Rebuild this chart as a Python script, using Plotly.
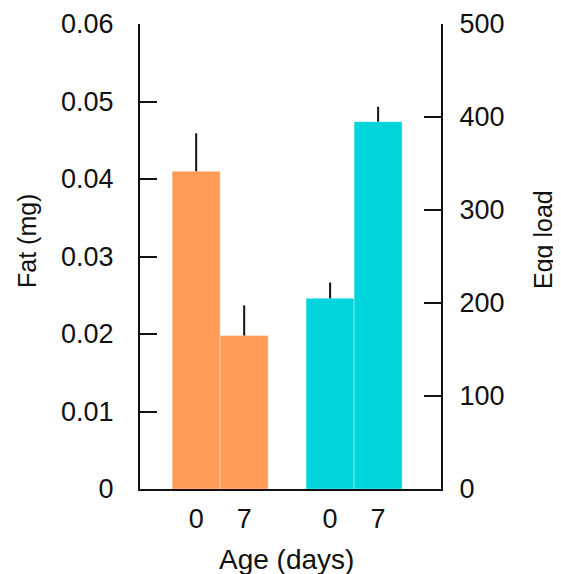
import plotly.graph_objects as go

# ---- data ----
age_labels = ["0", "7", "0", "7"]
fat_mean = [0.041, 0.0198]
fat_err = [0.0049, 0.0039]
egg_mean = [205, 395]
egg_err = [17, 16]
fat_ticks = [0, 0.01, 0.02, 0.03, 0.04, 0.05, 0.06]
fat_ticktext = ["0", "0.01", "0.02", "0.03", "0.04", "0.05", "0.06"]
egg_ticks = [0, 100, 200, 300, 400, 500]

# ---- layout constants ----
fat_x = [0, 1]
egg_x = [2.79, 3.79]
FONT = "Liberation Sans, Arial, sans-serif"
ORANGE = "#FF9A57"
CYAN = "#00D5DC"
INK = "#111111"

FIG_W, FIG_H = 553, 566
L, T, PW, PH = 132, 16, 301, 465


def px_x(px):
    return (px - L) / PW


def px_y(py):
    return (T + PH - py) / PH


fig = go.Figure()
fig.add_trace(go.Bar(
    x=fat_x, y=fat_mean, width=1.0, yaxis="y",
    marker=dict(color=ORANGE, line=dict(color="rgba(255,255,255,0.35)", width=1)),
    error_y=dict(type="data", array=fat_err, arrayminus=[0] * len(fat_err),
                 symmetric=False, width=0, thickness=2, color=INK),
    showlegend=False,
))
fig.add_trace(go.Bar(
    x=egg_x, y=egg_mean, width=1.0, yaxis="y2",
    marker=dict(color=CYAN, line=dict(color="rgba(255,255,255,0.35)", width=1)),
    error_y=dict(type="data", array=egg_err, arrayminus=[0] * len(egg_err),
                 symmetric=False, width=0, thickness=2, color=INK),
    showlegend=False,
))

axis_common = dict(showgrid=False, zeroline=False, showline=True,
                   linecolor=INK, linewidth=2, automargin=False)

fig.update_layout(
    width=FIG_W, height=FIG_H,
    margin=dict(l=L, r=FIG_W - L - PW, t=T, b=FIG_H - T - PH),
    paper_bgcolor="white", plot_bgcolor="white",
    font=dict(family=FONT, size=27, color=INK),
    barmode="overlay",
    xaxis=dict(
        range=[-1.17, 5.1], tickvals=fat_x + egg_x, ticktext=age_labels,
        ticks="", ticklabelstandoff=5, **axis_common,
    ),
    yaxis=dict(
        range=[0, 0.06], tickvals=fat_ticks, ticktext=fat_ticktext,
        ticks="inside", ticklen=17, tickwidth=2, tickcolor=INK,
        ticklabelstandoff=19, **axis_common,
    ),
    yaxis2=dict(
        range=[0, 500], tickvals=egg_ticks,
        overlaying="y", side="right",
        ticks="inside", ticklen=17, tickwidth=2, tickcolor=INK,
        ticklabelstandoff=11, **axis_common,
    ),
    annotations=[
        dict(text="Fat (mg)", xref="paper", yref="paper", x=px_x(19), y=px_y(233),
             xanchor="center", yanchor="middle", textangle=-90, showarrow=False,
             font=dict(size=25)),
        dict(text="Egg load", xref="paper", yref="paper", x=px_x(535), y=px_y(232),
             xanchor="center", yanchor="middle", textangle=-90, showarrow=False,
             font=dict(size=25)),
        dict(text="Age (days)", xref="paper", yref="paper", x=px_x(278), y=px_y(551),
             xanchor="center", yanchor="middle", showarrow=False,
             font=dict(size=28)),
    ],
)

fig.write_html("out.html")
